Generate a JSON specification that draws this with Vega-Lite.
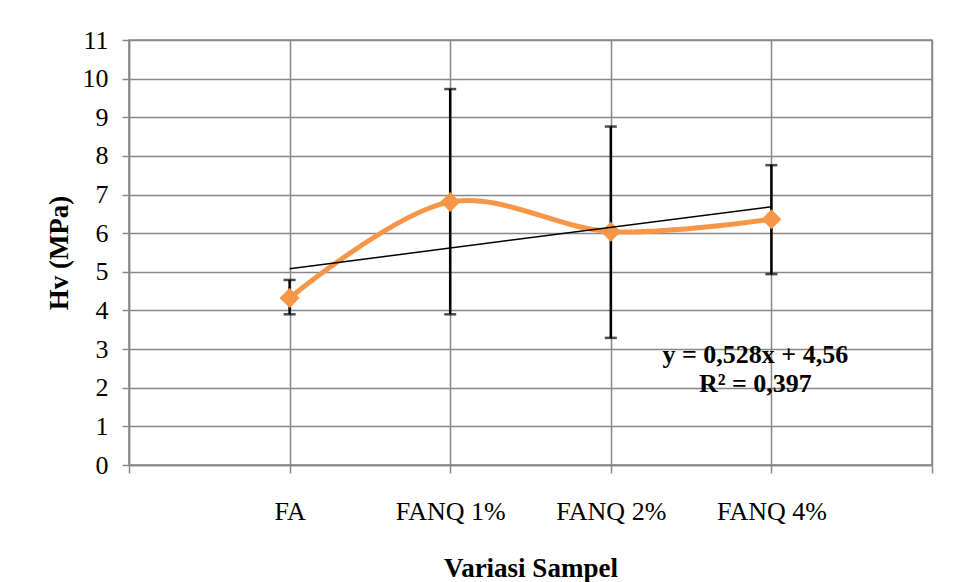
{
  "$schema": "https://vega.github.io/schema/vega-lite/v6.json",
  "autosize": {"type": "none"},
  "width": 803,
  "height": 425,
  "padding": {"left": 129, "top": 40, "right": 22, "bottom": 117},
  "background": "white",
  "config": {
    "view": {"stroke": "#888888", "strokeWidth": 1.5},
    "font": "Liberation Serif"
  },
  "datasets": {
    "main": [
      {"x": 1, "sample": "FA", "hv": 4.32, "lo": 3.90, "hi": 4.79},
      {"x": 2, "sample": "FANQ 1%", "hv": 6.81, "lo": 3.90, "hi": 9.73},
      {"x": 3, "sample": "FANQ 2%", "hv": 6.04, "lo": 3.29, "hi": 8.76},
      {"x": 4, "sample": "FANQ 4%", "hv": 6.36, "lo": 4.94, "hi": 7.76}
    ],
    "eq": [
      {"x": 3.9, "y": 2.85, "label": "y = 0,528x + 4,56"},
      {"x": 3.9, "y": 2.1, "label": "R² = 0,397"}
    ]
  },
  "data": {"name": "main"},
  "encoding": {
    "x": {
      "field": "x",
      "type": "quantitative",
      "scale": {"domain": [0, 5], "nice": false, "zero": false},
      "axis": {
        "values": [0, 1, 2, 3, 4, 5],
        "title": "Variasi Sampel",
        "titleFont": "Liberation Serif",
        "titleFontSize": 27,
        "titleFontWeight": "bold",
        "titleColor": "black",
        "titlePadding": 31,
        "labelExpr": "datum.value == 1 ? 'FA' : datum.value == 2 ? 'FANQ 1%' : datum.value == 3 ? 'FANQ 2%' : datum.value == 4 ? 'FANQ 4%' : ''",
        "labelFont": "Liberation Serif",
        "labelFontSize": 26,
        "labelColor": "black",
        "labelPadding": 25,
        "labelDx": 6,
        "labelFlush": false,
        "labelOverlap": false,
        "tickSize": 8,
        "tickColor": "#888888",
        "tickWidth": 1.5,
        "domainColor": "#888888",
        "domainWidth": 1.5,
        "grid": true,
        "gridColor": "#888888",
        "gridWidth": 1.5
      }
    },
    "y": {
      "field": "hv",
      "type": "quantitative",
      "scale": {"domain": [0, 11], "nice": false},
      "axis": {
        "values": [0, 1, 2, 3, 4, 5, 6, 7, 8, 9, 10, 11],
        "title": "Hv (MPa)",
        "titleFont": "Liberation Serif",
        "titleFontSize": 27,
        "titleFontWeight": "bold",
        "titleColor": "black",
        "titlePadding": 9,
        "labelFont": "Liberation Serif",
        "labelFontSize": 26,
        "labelColor": "black",
        "labelPadding": 14,
        "labelFlush": false,
        "tickSize": 7,
        "tickColor": "#888888",
        "tickWidth": 1.5,
        "domainColor": "#888888",
        "domainWidth": 1.5,
        "grid": true,
        "gridColor": "#888888",
        "gridWidth": 1.5
      }
    }
  },
  "layer": [
    {
      "mark": {
        "type": "errorbar",
        "ticks": {"size": 12, "thickness": 2.5, "color": "black"},
        "rule": {"strokeWidth": 2.5, "color": "black"},
        "color": "black"
      },
      "encoding": {
        "y": {"field": "lo", "type": "quantitative"},
        "y2": {"field": "hi"}
      }
    },
    {
      "mark": {"type": "line", "color": "#F79646", "strokeWidth": 5, "interpolate": "catmull-rom"}
    },
    {
      "mark": {"type": "point", "shape": "diamond", "filled": true, "size": 400, "color": "#F79646", "opacity": 1}
    },
    {
      "transform": [
        {"regression": "hv", "on": "x", "extent": [1, 4]}
      ],
      "mark": {"type": "line", "color": "black", "strokeWidth": 1.5}
    },
    {
      "data": {"name": "eq"},
      "mark": {"type": "text", "font": "Liberation Serif", "fontSize": 26, "fontWeight": "bold", "color": "black", "align": "center", "baseline": "middle"},
      "encoding": {
        "x": {"field": "x", "type": "quantitative"},
        "y": {"field": "y", "type": "quantitative"},
        "text": {"field": "label"}
      }
    }
  ]
}
